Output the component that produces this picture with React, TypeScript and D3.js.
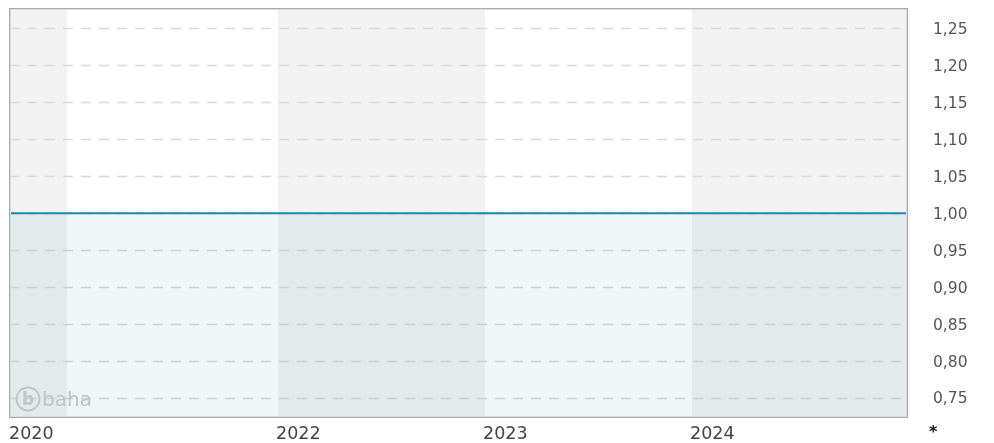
import React, { useEffect, useRef } from 'react';
import * as d3 from 'd3';

const seriesDates = ['2020-09-14', '2021-06-01', '2022-06-01', '2023-06-01', '2024-06-01', '2024-12-31'];
const seriesValues = [1.0, 1.0, 1.0, 1.0, 1.0, 1.0];
const yearStarts = ['2021-01-01', '2022-01-01', '2023-01-01', '2024-01-01'];
const yTicks = [0.75, 0.8, 0.85, 0.9, 0.95, 1.0, 1.05, 1.1, 1.15, 1.2, 1.25];
const yearLabels = ['2020', '2022', '2023', '2024'];

const W = 994;
const H = 443;

const App = () => {
  const ref = useRef<SVGSVGElement>(null);

  useEffect(() => {
    const svg = d3.select(ref.current);
    svg.selectAll('*').remove();

    const left = 9, right = 908, top = 8, bottom = 418;
    const parse = d3.timeParse('%Y-%m-%d');
    const dates = seriesDates.map(d => parse(d) as Date);
    const data = dates.map((d, i) => ({ date: d, value: seriesValues[i] }));
    const yStarts = yearStarts.map(d => parse(d) as Date);

    // trading-day axis: each year gets its own segment
    const x = d3.scaleTime()
      .domain([dates[0], ...yStarts, dates[dates.length - 1]])
      .range([left, 67, 278, 485, 692, right]);
    const y = d3.scaleLinear()
      .domain([0.7229, 1.2777])
      .range([bottom, top]);

    svg.append('rect')
      .attr('x', left).attr('y', top)
      .attr('width', right - left).attr('height', bottom - top)
      .attr('fill', '#ffffff');

    // alternating year bands
    const bounds = [dates[0], ...yStarts, dates[dates.length - 1]];
    for (let i = 0; i < bounds.length - 1; i += 2) {
      const a = x(bounds[i]);
      const b = x(bounds[i + 1]);
      svg.append('rect')
        .attr('x', a).attr('y', top)
        .attr('width', b - a).attr('height', bottom - top)
        .attr('fill', '#f2f2f2');
    }

    // dashed grid
    svg.append('g')
      .selectAll('line')
      .data(yTicks)
      .enter()
      .append('line')
      .attr('x1', left).attr('x2', right)
      .attr('y1', d => Math.round(y(d)) + 0.5)
      .attr('y2', d => Math.round(y(d)) + 0.5)
      .attr('stroke', '#dadada')
      .attr('stroke-width', 1.5)
      .attr('stroke-dasharray', '10,8');

    // area under line
    const area = d3.area<{ date: Date; value: number }>()
      .x(d => x(d.date))
      .y0(bottom)
      .y1(d => y(d.value));
    svg.append('path')
      .datum(data)
      .attr('d', area)
      .attr('fill', 'rgb(42,142,167)')
      .attr('fill-opacity', 0.08);

    // watermark
    const wm = svg.append('g').attr('fill', '#c4c4c4');
    wm.append('circle')
      .attr('cx', 28).attr('cy', 399).attr('r', 11.5)
      .attr('fill', 'none')
      .attr('stroke', '#c4c4c4').attr('stroke-width', 1.8);
    wm.append('text')
      .attr('x', 28).attr('y', 405)
      .attr('text-anchor', 'middle')
      .style('font-family', '"DejaVu Sans", sans-serif')
      .style('font-size', '17px')
      .style('font-weight', 'bold')
      .text('b');
    wm.append('text')
      .attr('x', 42).attr('y', 406)
      .style('font-family', '"DejaVu Sans", sans-serif')
      .style('font-size', '20px')
      .text('baha');

    // line
    const line = d3.line<{ date: Date; value: number }>()
      .x(d => x(d.date))
      .y(d => y(d.value));
    svg.append('path')
      .datum(data)
      .attr('d', line)
      .attr('fill', 'none')
      .attr('stroke', '#1c88ae')
      .attr('stroke-width', 2);

    // frame
    svg.append('rect')
      .attr('x', left + 1.5).attr('y', top + 1.5)
      .attr('width', right - left - 3).attr('height', bottom - top - 3)
      .attr('fill', 'none')
      .attr('stroke', '#dcdcdc');
    svg.append('rect')
      .attr('x', left + 0.5).attr('y', top + 0.5)
      .attr('width', right - left - 1).attr('height', bottom - top - 1)
      .attr('fill', 'none')
      .attr('stroke', '#ababab');

    // y labels
    svg.append('g')
      .selectAll('text')
      .data(yTicks)
      .enter()
      .append('text')
      .attr('x', 933)
      .attr('y', d => y(d) + 5.5)
      .style('font-family', '"DejaVu Sans", sans-serif')
      .style('font-size', '15.5px')
      .attr('fill', '#555555')
      .text(d => d3.format('.2f')(d).replace('.', ','));

    // x labels
    const labelPos = [dates[0], ...yStarts.slice(1)];
    svg.append('g')
      .selectAll('text')
      .data(yearLabels)
      .enter()
      .append('text')
      .attr('x', (d, i) => Math.max(left, x(labelPos[i]) - 2))
      .attr('y', 439)
      .style('font-family', '"DejaVu Sans", sans-serif')
      .style('font-size', '17.5px')
      .attr('fill', '#444444')
      .text(d => d);

    svg.append('text')
      .attr('x', 929).attr('y', 437)
      .style('font-family', '"DejaVu Sans", sans-serif')
      .style('font-size', '16px')
      .style('font-weight', 'bold')
      .attr('fill', '#111111')
      .text('*');
  }, []);

  return (
    <div style={{ position: 'fixed', left: 0, top: 0 }}>
      <svg ref={ref} width={W} height={H} style={{ display: 'block' }} />
    </div>
  );
};

export default App;
